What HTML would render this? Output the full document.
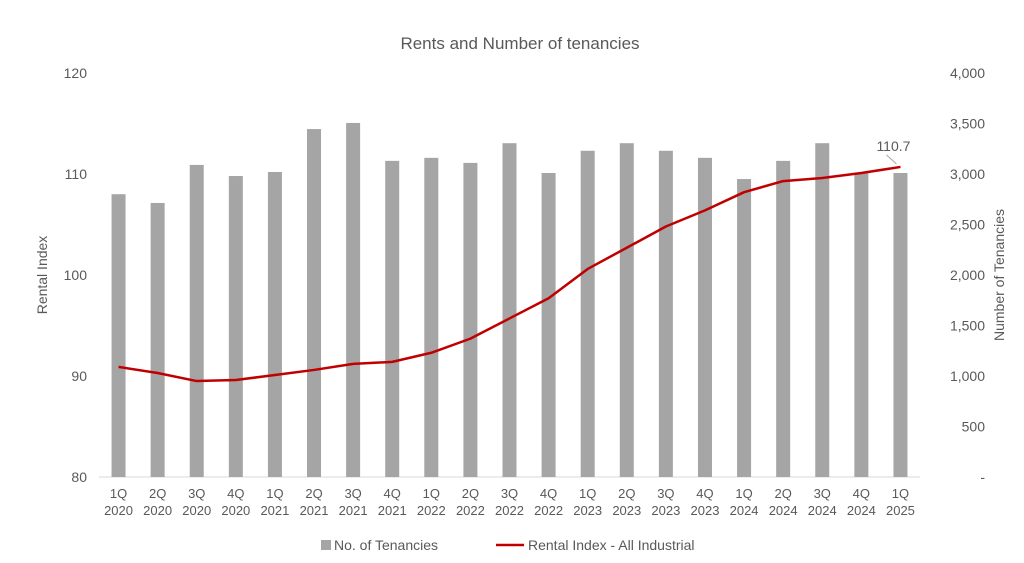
<!DOCTYPE html>
<html><head><meta charset="utf-8"><style>
body{margin:0;background:#fff;font-family:"Liberation Sans",sans-serif;}
svg text{font-family:"Liberation Sans",sans-serif;fill:#595959;}
</style></head><body>
<svg id="chart" width="1024" height="558" xmlns="http://www.w3.org/2000/svg">
<text x="520" y="49" font-size="17" text-anchor="middle">Rents and Number of tenancies</text>
<text transform="translate(47,275) rotate(-90)" font-size="14" text-anchor="middle">Rental Index</text>
<text transform="translate(1004,275) rotate(-90)" font-size="14" text-anchor="middle">Number of Tenancies</text>
<g id="grid"></g><g id="bars"></g><g id="line"></g><g id="labels"></g>
<g>
<rect x="321" y="540" width="10" height="10" fill="#a5a5a5"/>
<text x="334" y="550" font-size="14">No. of Tenancies</text>
<line x1="496" y1="545" x2="524" y2="545" stroke="#c00000" stroke-width="2.5"/>
<text x="528" y="550" font-size="14">Rental Index - All Industrial</text>
</g>
</svg>
<script>
const categories=["1Q 2020","2Q 2020","3Q 2020","4Q 2020","1Q 2021","2Q 2021","3Q 2021","4Q 2021","1Q 2022","2Q 2022","3Q 2022","4Q 2022","1Q 2023","2Q 2023","3Q 2023","4Q 2023","1Q 2024","2Q 2024","3Q 2024","4Q 2024","1Q 2025"];
const tenancies=[2800,2713,3090,2980,3020,3445,3505,3130,3160,3110,3305,3010,3230,3305,3230,3160,2950,3130,3305,3010,3010];
const rentalIndex=[90.9,90.3,89.5,89.6,90.1,90.6,91.2,91.4,92.3,93.7,95.7,97.7,100.6,102.7,104.8,106.4,108.2,109.3,109.6,110.1,110.7];
const leftTicks=[80,90,100,110,120];
const rightTicks=[0,500,1000,1500,2000,2500,3000,3500,4000];
const rightTickLabels=["-","500","1,000","1,500","2,000","2,500","3,000","3,500","4,000"];
const NS="http://www.w3.org/2000/svg";
const top0=73,bot=477,left=99,right=920;
const yL=v=>bot-(v-80)/40*(bot-top0);
const yR=v=>bot-v/4000*(bot-top0);
const step=(right-left)/categories.length;
const xC=i=>left+step*(i+0.5);
function mk(tag,attrs,parent){const e=document.createElementNS(NS,tag);for(const k in attrs)e.setAttribute(k,attrs[k]);document.getElementById(parent).appendChild(e);return e;}
leftTicks.forEach(t=>{
 const e=mk('text',{x:left-12,y:yL(t)+5,'font-size':14,'text-anchor':'end'},'labels');
 
 
 e.textContent=t;
});
rightTicks.forEach((t,i)=>{
 const e=mk('text',{x:right+65,y:yR(t)+5,'font-size':14,'text-anchor':'end'},'labels');
 
 
 e.textContent=rightTickLabels[i];
});
const ax=mk('line',{x1:left,x2:right,y1:bot,y2:bot,stroke:'#d9d9d9'},'grid');


tenancies.forEach((v,i)=>{
 const b=mk('rect',{x:xC(i)-7,y:yR(v),width:14,height:bot-yR(v),fill:'#a5a5a5'},'bars');
 
 
});
categories.forEach((c,i)=>{
 const [q,y]=c.split(' ');
 const t=mk('text',{x:xC(i),y:498,'font-size':13,'text-anchor':'middle'},'labels');
 
 
 const s1=document.createElementNS(NS,'tspan');s1.setAttribute('x',xC(i));s1.textContent=q;t.appendChild(s1);
 const s2=document.createElementNS(NS,'tspan');s2.setAttribute('x',xC(i));s2.setAttribute('dy','17');s2.textContent=y;t.appendChild(s2);
});
const pts=rentalIndex.map((v,i)=>xC(i)+','+yL(v)).join(' ');
const pl=mk('polyline',{points:pts,fill:'none',stroke:'#c00000','stroke-width':2.5,'stroke-linejoin':'round'},'line');


const n=rentalIndex.length-1;
const lead=mk('line',{x1:xC(n)-4,y1:yL(rentalIndex[n])-3,x2:xC(n)-14,y2:yL(rentalIndex[n])-12,stroke:'#a5a5a5'},'labels');


const vl=mk('text',{x:xC(n)-7,y:yL(rentalIndex[n])-16,'font-size':14,'text-anchor':'middle'},'labels');


vl.textContent=rentalIndex[n].toFixed(1);
</script>
</body></html>
